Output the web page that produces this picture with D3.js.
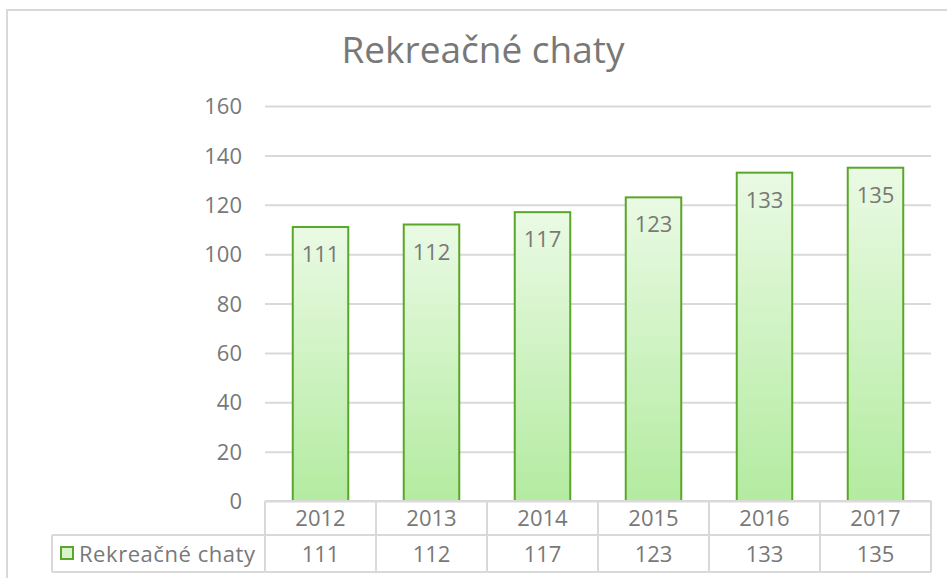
<!DOCTYPE html>
<html>
<head>
<meta charset="utf-8">
<script src="https://cdn.jsdelivr.net/npm/d3@7"></script>
<style>
  body { margin: 0; background: #fff; overflow: hidden; }
  text { font-family: "Open Sans", sans-serif; fill: #787878; }
</style>
</head>
<body>
<div class="chart"></div>
<script>
// chart data
const years = ['2012', '2013', '2014', '2015', '2016', '2017'];
const chaty = [111, 112, 117, 123, 133, 135];
const yTicks = [0, 20, 40, 60, 80, 100, 120, 140, 160];
const seriesName = 'Rekreačné chaty';
const chartTitle = 'Rekreačné chaty';

const width = 947;
const height = 578;
const grey = '#d9d9d9';

// plot area
const plotLeft = 265, plotRight = 931, plotTop = 106, plotBottom = 501;

const svg = d3.select('.chart')
    .append('svg')
    .attr('width', width)
    .attr('height', height);

// gradient for bars
const grad = svg.append('defs').append('linearGradient')
    .attr('id', 'barGrad')
    .attr('x1', 0).attr('y1', 0).attr('x2', 0).attr('y2', 1);
grad.append('stop').attr('offset', '0%').attr('stop-color', '#eafae4');
grad.append('stop').attr('offset', '100%').attr('stop-color', '#b3eba0');

// outer border
svg.append('rect')
    .attr('x', 7).attr('y', 10)
    .attr('width', width + 10).attr('height', height + 10)
    .attr('fill', 'none')
    .attr('stroke', grey)
    .attr('stroke-width', 2);

// title
svg.append('text')
    .text(chartTitle)
    .attr('x', 483)
    .attr('y', 63)
    .attr('text-anchor', 'middle')
    .style('font-size', '37px');

const x = d3.scaleBand()
    .domain(years)
    .range([plotLeft, plotRight])
    .paddingInner(0.5)
    .paddingOuter(0.25);

const y = d3.scaleLinear()
    .domain([0, 160])
    .range([plotBottom, plotTop]);

// gridlines + y labels
const yAxis = svg.append('g')
    .attr('transform', `translate(${plotLeft},0)`)
    .call(d3.axisLeft(y)
        .tickValues(yTicks)
        .tickSize(-(plotRight - plotLeft))
        .tickPadding(23));
yAxis.select('.domain').remove();
yAxis.selectAll('line')
    .attr('stroke', grey)
    .attr('stroke-width', 2);
yAxis.selectAll('text')
    .style('font-size', '22px')
    .style('font-family', '"Open Sans", sans-serif')
    .attr('fill', '#787878')
    .attr('dy', '0.35em');

// bars
svg.selectAll('.bar')
    .data(chaty)
    .enter()
    .append('rect')
    .attr('class', 'bar')
    .attr('x', (d, i) => x(years[i]))
    .attr('y', d => y(d))
    .attr('width', x.bandwidth())
    .attr('height', d => plotBottom - y(d))
    .attr('fill', 'url(#barGrad)')
    .attr('stroke', '#5aa62a')
    .attr('stroke-width', 2);

// bar labels
svg.selectAll('.lbl')
    .data(chaty)
    .enter()
    .append('text')
    .attr('class', 'lbl')
    .text(d => d)
    .attr('x', (d, i) => x(years[i]) + x.bandwidth() / 2)
    .attr('y', d => y(d) + 35)
    .attr('text-anchor', 'middle')
    .style('font-size', '22px');

// data table
const cellW = x.step();
const row1 = plotBottom, row2 = 535, row3 = 572;
const table = svg.append('g');

// horizontal lines
table.append('line').attr('x1', plotLeft).attr('x2', plotRight).attr('y1', row1).attr('y2', row1);
table.append('line').attr('x1', 52).attr('x2', plotRight).attr('y1', row2).attr('y2', row2);
table.append('line').attr('x1', 52).attr('x2', plotRight).attr('y1', row3).attr('y2', row3);
// vertical lines
d3.range(years.length + 1).forEach(i => {
  table.append('line')
      .attr('x1', plotLeft + i * cellW).attr('x2', plotLeft + i * cellW)
      .attr('y1', row1).attr('y2', row3);
});
table.append('line').attr('x1', 52).attr('x2', 52).attr('y1', row2).attr('y2', row3);
table.selectAll('line').attr('stroke', grey).attr('stroke-width', 2);

// header row
table.selectAll('.yr')
    .data(years)
    .enter()
    .append('text')
    .text(d => d)
    .attr('x', d => x(d) + x.bandwidth() / 2)
    .attr('y', 526)
    .attr('text-anchor', 'middle')
    .style('font-size', '22px');

// value row
table.selectAll('.val')
    .data(chaty)
    .enter()
    .append('text')
    .text(d => d)
    .attr('x', (d, i) => x(years[i]) + x.bandwidth() / 2)
    .attr('y', 562)
    .attr('text-anchor', 'middle')
    .style('font-size', '22px');

// legend key
table.append('rect')
    .attr('x', 61).attr('y', 547)
    .attr('width', 12).attr('height', 12)
    .attr('fill', '#d6f3cc')
    .attr('stroke', '#5aa62a')
    .attr('stroke-width', 2);
table.append('text')
    .text(seriesName)
    .attr('x', 79)
    .attr('y', 562)
    .attr('textLength', 176)
    .style('font-size', '22px');
</script>
</body>
</html>
